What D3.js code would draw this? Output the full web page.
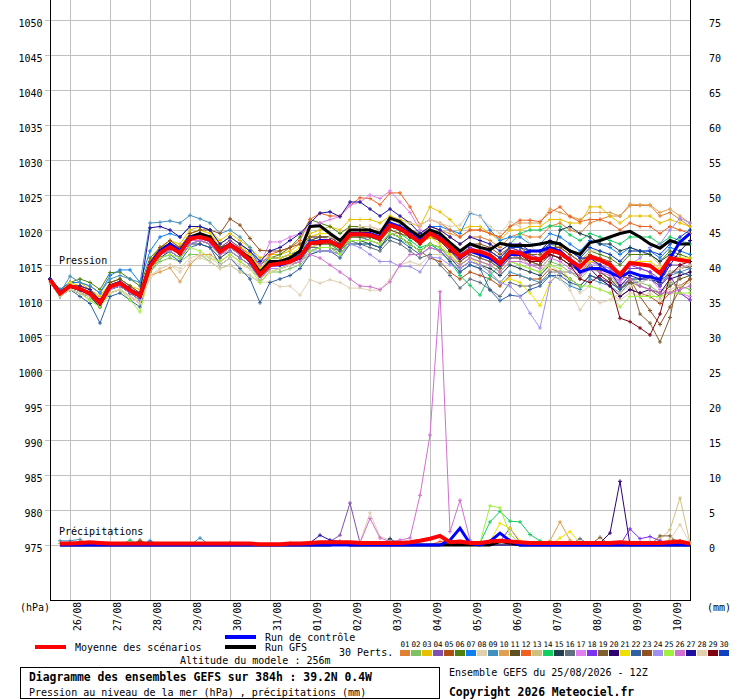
<!DOCTYPE html>
<html>
<head>
<meta charset="utf-8">
<script src="https://cdn.jsdelivr.net/npm/d3@7"></script>
<style>
  body { margin: 0; background: #fff; }
  text { font-family: "DejaVu Sans Mono", monospace; fill: #000; }
</style>
</head>
<body>
<div id="chart"></div>
<script>
// dates at 00Z (every 4 steps of 6h, first one at step 2)
var dates = ["26/08","27/08","28/08","29/08","30/08","31/08","01/09","02/09","03/09","04/09","05/09","06/09","07/09","08/09","09/09","10/09"];
var pressTicks = [975,980,985,990,995,1000,1005,1010,1015,1020,1025,1030,1035,1040,1045,1050];
var rainTicks = [0,5,10,15,20,25,30,35,40,45,50,55,60,65,70,75];

// pressure (hPa), one value every 6h, 65 values (25/08 12Z -> 384h)
var meanP = [1012.9,1010.9,1012.0,1011.6,1010.9,1009.6,1011.9,1012.4,1011.4,1010.6,
  1014.8,1016.7,1017.6,1016.7,1018.8,1019.0,1018.6,1016.9,1017.9,1016.9,
  1015.7,1013.6,1015.0,1015.2,1015.5,1016.2,1018.1,1018.3,1018.4,1017.6,
  1019.4,1019.4,1019.3,1018.8,1020.7,1020.2,1019.3,1018.2,1019.5,1018.8,
  1017.6,1016.2,1017.1,1016.9,1016.4,1015.2,1016.9,1016.7,1016.0,1015.8,
  1017.1,1016.7,1015.7,1014.7,1016.2,1015.7,1015.0,1013.6,1015.3,1015.1,
  1014.9,1013.8,1016.0,1015.7,1015.5];
var ctrlP = [1013,1011,1012,1011.5,1011,1009.5,1012,1012.5,1011.5,1010.5,
  1015,1017,1018,1017,1019,1019,1018.5,1017,1018,1017,
  1015.5,1013.5,1015,1015,1015.5,1016,1018,1018.5,1018.5,1017.5,
  1019.5,1019.5,1019.5,1019,1021,1020.5,1019.5,1018.5,1019.5,1019,
  1017.5,1016,1017,1016.5,1016,1015,1016.5,1016.5,1017,1017,
  1017.5,1017,1015.7,1014,1014.5,1014.5,1013.9,1013.3,1014,1013.5,
  1013.3,1012.9,1016,1018.3,1019.5];
var gfsP = [1013,1011,1012,1011.5,1011,1009.5,1012,1012.5,1011.5,1010.5,
  1015,1017,1018,1017,1019,1019.5,1019,1017,1018,1017,
  1016,1014,1015.5,1015.5,1016,1017,1020.5,1020.6,1019.5,1018.5,
  1020,1020,1020,1019.5,1021.7,1021.2,1020,1019,1020,1019.5,
  1018.2,1017,1018,1017.5,1017.2,1018.1,1017.8,1017.8,1017.8,1018,
  1018.3,1018,1017,1016.5,1018.2,1018.5,1019,1019.5,1019.8,1019,
  1018,1017.4,1018.5,1018,1018];

var pert01 = [1013,1011,1012.5,1012,1011.5,1010,1012.5,1013,1012,1011,
  1015.5,1017.5,1018,1017,1019.5,1020,1019.5,1017.5,1018.5,1017.5,
  1016.5,1014.5,1016,1016,1016.5,1017,1019,1019.5,1019.5,1018.5,
  1020.5,1020.5,1020.5,1020,1021.5,1021,1020,1019,1020.5,1020,
  1019,1018,1019,1019,1018.5,1017.5,1019,1019.5,1019,1019,
  1020.5,1021,1020,1019.5,1021,1021.5,1022,1022,1023.5,1023.5,
  1023.5,1022,1022.5,1021.5,1020.5];
var pert02 = [1012.5,1010.5,1011.5,1011,1010,1009,1011,1011.5,1010.5,1009.5,
  1014,1015.5,1016,1015.5,1016.5,1016.5,1015.5,1014.5,1015,1014,
  1013.5,1012.5,1014,1014,1014.5,1015,1016.5,1017,1017,1016.5,
  1018,1018,1018,1017.5,1019,1018.5,1018,1017,1018,1017.5,
  1016.5,1015,1016,1015.5,1015,1014,1015.5,1015,1014.5,1014,
  1015.5,1015,1014,1013,1014.5,1014,1013,1012,1013,1012.5,
  1012,1011,1012.5,1012,1011.5];
var pert03 = [1013,1011,1012.5,1012.5,1011.5,1010.5,1012.5,1013,1012,1011.5,
  1015.5,1017.5,1018.5,1018,1020,1020.5,1020,1018.5,1019.5,1018.5,
  1017.5,1016,1016.5,1016.5,1017,1018,1019.5,1020,1020.5,1020,
  1021.5,1021.5,1021.5,1021,1022,1021.5,1021,1020.5,1023.3,1022.6,
  1021.5,1020,1020.5,1020.5,1019.5,1018.5,1020,1020,1020.5,1020.5,
  1021.5,1021.5,1021,1021,1023.3,1023.3,1022,1021,1022,1022,
  1022,1021,1021.5,1021,1020.5];
var pert04 = [1013,1011,1012,1011.5,1011,1009.5,1012,1012.5,1011.5,1010.5,
  1015,1017,1018,1017,1019,1019.5,1019,1017.5,1018.5,1017.5,
  1016,1014,1015.5,1015.5,1016,1016.5,1018.5,1018.5,1018.5,1017.5,
  1019.5,1019.5,1019,1018.5,1020.5,1020,1019,1018,1019,1018.5,
  1017,1015.5,1016.5,1016,1015.5,1014.5,1016,1016,1015,1015,
  1016.5,1016,1015,1014,1015.5,1015,1014,1012.5,1014.5,1014.5,
  1014,1013,1015,1015,1014.5];
var pert05 = [1012.5,1011,1011.5,1011,1010.5,1009,1011.5,1012,1011,1010,
  1014.5,1016.5,1017,1016,1018,1018.5,1018,1016.5,1017.5,1016.5,
  1015.5,1013.5,1015,1015,1015,1016,1017.5,1018,1018,1017,
  1019,1019,1018.5,1018,1019.5,1019,1018,1017,1016,1015.5,
  1014,1013,1014,1013.5,1013,1012,1013.5,1013.5,1013,1013,
  1014.5,1014,1013,1012,1013.5,1013,1012,1010.5,1011.5,1011,
  1010.5,1009.5,1011,1012,1013];
var pert06 = [1013,1011.5,1012.5,1013,1012.5,1011.5,1013.9,1014,1013,1012,
  1016,1017.5,1018,1017.5,1019,1019.5,1019,1017.5,1018,1017,
  1016,1014,1016,1016.5,1017.5,1019,1021.5,1021,1020.5,1019.5,
  1020.5,1020.5,1020,1019.5,1021,1020.5,1020,1019,1020,1019.5,
  1018,1016.5,1018,1017.5,1017,1016,1017.5,1017,1016.5,1016.5,
  1018,1017.5,1016.5,1015.5,1017,1016.5,1016,1015,1016.5,1016.5,
  1016.5,1015.5,1017,1016.5,1016];
var pert07 = [1013,1011.5,1012.5,1012.5,1012,1011,1013.5,1014.3,1014.3,1012.5,
  1017,1019,1019.5,1019,1020.5,1020.5,1020,1018,1019,1018,
  1017,1015,1016,1016,1016.5,1017,1019,1019,1019,1018.5,
  1020,1020,1020,1019.5,1021,1020.5,1020,1019.5,1020.5,1020.5,
  1020,1019.5,1022.4,1022,1020,1018.5,1019,1019,1018,1018,
  1019.5,1019,1018,1017,1018.5,1018,1017.5,1016.5,1017.5,1017,
  1017,1016,1017.5,1017,1016.5];
var pert08 = [1012.5,1011,1011.5,1011,1010.5,1009.5,1011,1011.5,1010.5,1010,
  1013,1014.5,1015,1014,1015.5,1016,1015.5,1014.5,1015,1014,
  1013.5,1012.5,1012.6,1011.9,1012,1010.7,1012.9,1012.4,1012.9,1012.5,
  1011.7,1011.7,1011.4,1011.4,1013,1015,1015.5,1015,1016.5,1016.5,
  1016,1015.5,1017,1016.5,1016,1015,1016.5,1016,1015,1014.5,
  1015,1014,1012.5,1011,1012,1011.5,1011,1010,1011,1010.5,
  1011,1010,1011.5,1012,1012.5];
var pert09 = [1013,1011,1013.4,1012.5,1012,1011,1013,1013.5,1013,1012.5,
  1021,1021.1,1021.3,1021,1022.1,1021.6,1021,1019.5,1020,1019,
  1017.5,1015.5,1016,1016,1016.5,1017,1018.5,1019,1019,1018,
  1019.5,1019,1018.5,1018,1019.5,1019,1018,1017,1018,1017,
  1015.5,1014,1015,1014.5,1013.5,1012.5,1014,1013.5,1013,1012.5,
  1013.5,1013,1012,1011.5,1013,1012.5,1012,1011,1012.5,1012.5,
  1013,1012,1013.5,1014,1014.5];
var pert10 = [1012.5,1010.5,1011.5,1011,1010.5,1009.5,1011,1011.5,1010.5,1009.5,
  1013.5,1014,1014.6,1012.6,1015,1016.5,1016.5,1015.5,1016.5,1015.5,
  1014.5,1013,1014,1014.5,1015,1016,1017.5,1018,1018.5,1018,
  1019.5,1019.5,1019.5,1019,1021,1020.5,1020,1019.5,1020.5,1020,
  1019.5,1019,1020,1020,1019.5,1019,1020.5,1021,1021,1021,
  1023,1022.5,1022,1021.5,1022.5,1022.5,1022.5,1022,1023.7,1023.6,
  1023.6,1022.5,1023,1022,1021];
var pert11 = [1013,1011,1012,1012,1011.5,1010,1012.5,1013,1012,1011,
  1015,1017,1018,1017,1019,1019.5,1019,1017.5,1018,1017,
  1016,1014,1015.5,1015.5,1016,1016.5,1018.5,1019,1019,1018,
  1020,1020,1020,1019.5,1021.5,1021,1020,1019,1020,1019,
  1017.5,1016,1017,1016.5,1016,1015,1016.5,1016,1015.5,1015,
  1016.5,1016,1015,1014,1015,1014,1013,1011.5,1012.5,1012,
  1011.5,1010.5,1012,1013,1013.5];
var pert12 = [1013,1011,1012,1012,1011.5,1010,1012,1012.5,1011.5,1011,
  1015,1017,1018,1017.5,1019,1019.5,1019,1017,1018,1017.5,
  1016.5,1015,1016.5,1017,1017.5,1018.5,1021.5,1022.4,1022,1022,
  1023.5,1024.6,1024.5,1023.6,1025.3,1025.3,1023.3,1020.7,1021.5,1021,
  1020,1019,1020,1020,1019.5,1019,1020.5,1021.4,1021.4,1021.2,
  1022.5,1023.3,1021.9,1021.2,1021.5,1021.5,1021,1020,1021,1020.5,
  1020.5,1019.5,1020.5,1020,1019.5];
var pert13 = [1012.5,1010.5,1012,1011.5,1011,1009.5,1012,1012.5,1011.5,1010.5,
  1014.5,1016,1017,1016,1018,1018.5,1018,1016.5,1017,1016,
  1015,1013,1014.5,1014.5,1015,1016,1017.5,1018,1018,1017,
  1018.5,1018.5,1018.5,1018,1019.5,1019.5,1019,1018,1019,1018.5,
  1017.5,1016.5,1017.5,1017,1016.5,1015.5,1017,1017,1016.5,1016.5,
  1018,1017.5,1016.5,1015.5,1017,1017,1016.5,1015.5,1017,1017,
  1016.5,1015,1013,1011,1010];
var pert14 = [1013,1011,1012,1011.5,1011,1009.5,1012,1012.5,1011.5,1010.5,
  1015,1016.5,1017.5,1016.5,1018.5,1018.5,1018,1016.5,1017.5,1016.5,
  1015.5,1013.5,1015,1015,1015.5,1016,1018,1018,1018,1017,
  1019,1019,1019,1018.5,1020,1019.5,1018.5,1017.5,1018,1017,
  1015.5,1013.5,1012.1,1010.7,1013.5,1015,1018,1019.5,1020,1020,
  1020.6,1020.5,1019.3,1018.5,1019.5,1019,1018.5,1018,1019,1019,
  1019,1018,1019,1018.5,1018];
var pert15 = [1012.5,1010.5,1011.5,1011,1010.5,1009,1011.5,1012,1011,1010,
  1014,1016,1017,1016,1018,1018,1017.5,1016,1017,1016,
  1015,1013,1014.5,1014.5,1015,1015.5,1017,1017.5,1017.5,1016.5,
  1018.5,1018.5,1018,1017.5,1019.5,1019,1018,1017,1018,1017.5,
  1016,1014.5,1015.5,1015,1014.5,1013.5,1015,1014.5,1014,1013.5,
  1015,1020,1020.5,1019.5,1019,1018,1018,1017,1017.5,1017,
  1016.5,1015.5,1016.5,1016,1015.5];
var pert16 = [1013,1011,1012,1011.5,1011,1009.5,1012,1012.5,1011.5,1010.5,
  1014.5,1016.5,1017,1016,1018,1018.5,1018,1016.5,1017.5,1016.5,
  1015.5,1013,1014.5,1014.5,1015,1015.5,1017.5,1017.5,1017.5,1017,
  1018.5,1018,1017.5,1017,1018.5,1018,1017,1016,1016.5,1015,
  1013.5,1011.7,1013,1012.5,1011.5,1010.5,1012.5,1012,1012,1012.5,
  1014,1014,1013,1012,1013.5,1013,1012.5,1011.5,1013,1013,
  1013,1012,1014,1014.5,1015];
var pert17 = [1013,1011,1012,1011.5,1011,1010,1012,1012.5,1011.5,1010.5,
  1015,1016.5,1017.5,1016.5,1018.5,1019,1018.5,1017,1018,1017,
  1016,1015,1018.3,1018.3,1019,1019.5,1020.5,1021,1021.5,1021.9,
  1023.5,1024,1025,1024.5,1025.6,1024,1022.5,1020,1019.5,1019,
  1017.5,1016,1017,1016.5,1016,1015,1016.5,1016,1015.5,1015.5,
  1016.5,1016,1015,1014,1015.5,1015,1014,1012.5,1014,1013.5,
  1013,1011.5,1011,1011,1010.5];
var pert18 = [1013,1011,1012,1011.5,1011,1009.5,1012,1012.5,1011.5,1010.5,
  1015,1017,1018,1017,1019,1019,1018.5,1017,1018,1017,
  1016,1013.5,1015,1015.5,1016,1016.5,1018.5,1018.5,1018.5,1017.5,
  1019.5,1019.5,1019.5,1019,1021,1020.5,1019.5,1018.5,1019.5,1019,
  1018,1016.5,1017.5,1017,1017,1016,1017.5,1017,1016.5,1016,
  1017.5,1017,1016,1015,1016,1015,1014.5,1013,1015,1014.5,
  1014,1012,1013.5,1011,1010];
var pert19 = [1013,1011,1012,1011.5,1011,1009.5,1012,1012.5,1011.5,1010.5,
  1014.5,1016.5,1017.5,1016.5,1018.5,1018.5,1018,1016.5,1017.5,1016.5,
  1015.5,1013.5,1015,1015,1015.5,1016,1018,1018,1018,1017.5,
  1019,1019,1019,1018.5,1020.5,1020,1019,1018,1019,1018.5,
  1017,1015.5,1016.5,1016,1015.5,1014.5,1016,1016,1015.5,1015,
  1016.5,1016,1015,1014,1015,1014,1013,1011.5,1012.9,1008,
  1006.7,1004,1007.5,1014.5,1014.8];
var pert20 = [1013,1011,1012,1011.5,1011,1009.5,1011.5,1012,1011,1010.5,
  1015,1017,1018,1017,1019,1019,1018.5,1017,1018,1016.5,
  1015.5,1013.5,1015,1015,1015.5,1016.5,1018.5,1018.5,1018.5,1017.5,
  1019.5,1019.5,1019.5,1019,1021,1020.5,1019.5,1018.5,1019.5,1019,
  1017.5,1016,1017,1016.5,1016,1015,1016.5,1016.5,1015.5,1015.5,
  1017,1016.5,1015.5,1014,1014.5,1013,1012,1010.5,1011.5,1011,
  1011.5,1011,1013,1013.5,1014];
var pert21 = [1013,1011,1012.5,1012,1011.5,1010,1012,1012.5,1011.5,1010.5,
  1015.5,1017.5,1018.5,1017.5,1019.5,1020,1019.5,1018,1019,1018,
  1016.5,1014.5,1016,1016,1016.5,1017.5,1019,1019.5,1019.5,1018.5,
  1020,1020,1019.5,1019,1020.5,1020,1019,1018,1019,1018,
  1016.5,1015,1016,1015,1014,1012.5,1013,1012.5,1011,1009.2,
  1012.5,1014,1014,1013.5,1015.5,1015.5,1015,1014,1015.5,1015.5,
  1015.5,1014.5,1016,1016,1016];
var pert22 = [1013,1010.5,1011.5,1010.5,1009.5,1006.7,1010.5,1011,1010,1009,
  1014,1016,1016.5,1015.5,1017.5,1018,1017.5,1015,1016,1014.5,
  1013,1009.6,1012.5,1013,1013.5,1014.5,1016.5,1017,1017,1016,
  1018,1018,1018,1017.5,1019,1018.5,1017.5,1016.5,1017.5,1017,
  1015.5,1014,1015,1014.5,1011.4,1009.9,1010.7,1010.5,1011.5,1012,
  1013.5,1013.5,1012.5,1012,1013.5,1013,1012.5,1011.5,1013,1013,
  1013.5,1012.5,1014,1014,1013.5];
var pert23 = [1013,1011,1012,1011.5,1011,1010,1012,1012.5,1011.5,1010.5,
  1015.5,1017.5,1018.5,1017.5,1019.5,1020,1020,1019.5,1021.6,1020.7,
  1018.8,1017.1,1017,1017,1017.5,1018,1019,1019,1019,1018,
  1019.5,1019.5,1019,1018.5,1020,1019.5,1019,1018.5,1019.5,1019,
  1018,1017,1018,1018,1017.5,1016.5,1017.5,1017.5,1016.5,1016.5,
  1017.5,1017.5,1016.5,1015.5,1016.5,1016,1015.5,1013.5,1013,1010.5,
  1008.5,1006.5,1009,1011.5,1013];
var pert24 = [1013,1011,1012,1011.5,1010.5,1009.5,1011.5,1012,1011,1010,
  1014.5,1016.5,1017,1016,1018,1018.5,1018,1016.5,1017,1016,
  1015,1013,1014.5,1014.5,1015,1015.5,1017,1017,1017,1016.5,
  1018,1017.5,1016.5,1015.5,1015.5,1014.8,1014.8,1014,1016.1,1016,
  1015,1014.5,1015.5,1015,1014,1012.5,1012,1010.5,1008.1,1006,
  1012.5,1014,1014,1013.5,1015,1015,1014.5,1013.5,1015,1016,
  1017.5,1018,1020,1021.7,1021];
var pert25 = [1012.5,1010.5,1011.5,1011,1010,1009,1011,1011.5,1010,1008.3,
  1014,1016,1016.5,1016,1017.5,1017,1016,1015.5,1016.5,1015.5,
  1014.5,1012.5,1014,1014.5,1015,1015.5,1017,1017.5,1017.5,1016.5,
  1018.5,1018.5,1018.5,1018,1019.5,1019,1018,1017,1018,1017.5,
  1016,1015,1016,1015.5,1015,1014,1015.5,1015,1014.5,1014,
  1015,1014.5,1013,1012,1012,1011.5,1011,1009,1010.5,1010.5,
  1010.5,1010.5,1011,1011,1011];
var pert26 = [1013,1011,1012,1011.5,1011,1009.5,1012,1012.5,1011.5,1010.5,
  1015,1016.5,1017.5,1016.5,1018.5,1018.5,1018,1016.5,1017.5,1016.5,
  1015.5,1013.5,1015,1015,1015,1015.5,1016.5,1016,1015,1014,
  1013,1012,1011.9,1011.5,1012.6,1015,1016.5,1016.5,1017.5,1017,
  1016,1015,1016,1015.5,1015,1014,1015.5,1015.5,1015,1014.5,
  1016,1015.5,1014.5,1013.5,1014.5,1014,1013.5,1012,1013,1012,
  1011.5,1011,1011,1011.5,1012];
var pert27 = [1013,1011,1012,1012,1011.5,1010,1012,1012.5,1011.5,1011,
  1020.3,1020.5,1020,1019,1020.5,1020.5,1020,1018,1019,1018,
  1017,1015.5,1017,1017.5,1018.5,1019.5,1021,1022.4,1022.6,1021.9,
  1024,1024,1023,1022,1023,1022,1021,1019.5,1020.5,1020,
  1019,1018,1019,1018.5,1018,1017,1018,1018,1017,1017,
  1018.5,1018,1017,1016,1016,1015,1014,1012,1013.5,1013,
  1013,1012.5,1015,1017,1018.5];
var pert28 = [1012.5,1010.5,1011.5,1011,1010.5,1009.5,1011,1011.5,1010.5,1009.5,
  1013.5,1014.5,1015,1014.5,1016,1016.5,1016,1015,1016,1015,
  1014.5,1013,1014,1014.5,1015,1016,1018,1018.5,1019,1018.5,
  1020,1020.5,1020.5,1020,1021.5,1021,1021,1020.7,1021.5,1021,
  1020.5,1020.7,1022.6,1021.9,1020.5,1019.5,1021.2,1020.5,1018,1016,
  1014.5,1013,1011.4,1008.6,1010.5,1009.6,1010,1011,1012,1012.5,
  1013,1013,1014,1014.5,1015];
var pert29 = [1013,1011,1012,1011.5,1011,1009.5,1012,1012.5,1011.5,1010.5,
  1014.5,1016.5,1017.5,1016.5,1018.5,1019,1018.5,1017,1018,1017,
  1015.5,1013.5,1015,1015,1015.5,1016,1018,1018,1018.5,1017.5,
  1019.5,1019.5,1019.5,1019,1020.5,1020,1019,1018,1019.5,1018.5,
  1017,1016,1017,1016.5,1016,1015,1016.5,1016.5,1015.5,1015.5,
  1016.5,1016,1015,1013,1012.5,1013.5,1012.5,1007.4,1006.9,1006,
  1005,1008,1013.5,1015,1015.5];
var pert30 = [1013,1011,1012,1011.5,1011,1009.5,1012,1012.5,1011.5,1010.5,
  1015,1017,1018,1017,1019,1019.5,1019,1017,1018,1017,
  1016,1014,1015.5,1015.5,1016,1016.5,1018.5,1018.5,1018.5,1018,
  1019.5,1019.5,1019.5,1019,1021,1020.5,1019.5,1018.5,1019.5,1019,
  1018,1017,1018,1017.5,1017,1016,1017.5,1017.5,1017,1017,
  1018,1018,1017,1016,1017.5,1017,1016.5,1015.5,1017,1017,
  1017,1016.5,1018,1019,1020];

// precipitation (mm) as [step, mm]; steps not listed are 0 (steps 1..64)
var rainMean = [[1,0.2],[2,0.2],[3,0.3],[4,0.4],[5,0.3],[6,0.2],[7,0.2],[8,0.2],[9,0.2],[10,0.2],[11,0.2],
  [12,0.2],[13,0.2],[14,0.2],[15,0.2],[16,0.2],[17,0.2],[18,0.2],[19,0.2],[20,0.2],[21,0.1],[22,0.1],
  [23,0.1],[24,0.2],[25,0.2],[26,0.3],[27,0.4],[28,0.4],[29,0.4],[30,0.4],[31,0.3],[32,0.3],[33,0.3],
  [34,0.3],[35,0.3],[36,0.4],[37,0.6],[38,0.9],[39,1.3],[40,0.4],[41,0.5],[42,0.3],[43,0.3],[44,0.5],
  [45,0.6],[46,0.5],[47,0.4],[48,0.3],[49,0.3],[50,0.3],[51,0.3],[52,0.3],[53,0.3],[54,0.3],[55,0.3],
  [56,0.3],[57,0.4],[58,0.3],[59,0.3],[60,0.3],[61,0.3],[62,0.4],[63,0.5],[64,0.2]];
var rainCtrl = [[40,0.7],[41,2.4],[42,0.2],[44,0.5],[45,1.7],[46,0.6]];
var rainGfs = [[29,0.3],[45,0.5],[46,0.3]];
var rain01 = [[2,0.3],[3,0.4]];
var rain02 = [[1,0.2]];
var rain03 = [[45,0.4],[46,0.3]];
var rain04 = [[28,0.5],[29,1.4],[30,6.0],[31,0.3]];
var rain05 = [[40,0.3],[41,0.5]];
var rain06 = [[18,0.3]];
var rain07 = [[10,0.6]];
var rain08 = [[19,0.3],[31,0.4],[32,4.6],[33,1.2],[34,0.7],[35,0.6],[36,0.3]];
var rain09 = [[1,0.6],[2,0.6],[3,0.8],[15,1.0]];
var rain10 = [[50,0.6],[51,3.3],[52,0.7]];
var rain11 = [[9,0.5]];
var rain12 = [[3,0.5],[39,0.5],[40,0.6]];
var rain13 = [[61,0.8],[62,2.2],[63,6.7],[64,0.3]];
var rain14 = [[8,0.7],[43,0.3],[44,3.3],[45,4.8],[46,3.4],[47,3.3],[48,1.5],[49,0.6]];
var rain15 = [[34,0.9]];
var rain16 = [[53,0.9]];
var rain17 = [[24,0.3]];
var rain18 = [[45,0.5],[46,2.4],[47,0.4],[58,2.3],[59,0.9],[60,1.2],[61,0.6]];
var rain19 = [[9,0.7],[55,1.1],[61,1.3],[62,1.3]];
var rain20 = [[55,0.3],[56,1.7],[57,9.1]];
var rain21 = [[44,0.5],[45,3.1],[46,2.4],[47,0.6],[51,1.0],[52,1.9],[53,0.3]];
var rain22 = [[2,0.3]];
var rain23 = [[62,0.8],[63,0.6]];
var rain24 = [[60,0.5]];
var rain25 = [[43,0.3],[44,5.6],[45,5.3],[46,1.5],[47,0.3]];
var rain26 = [[30,0.2],[31,0.3],[32,3.8],[33,1.0],[34,0.5],[35,0.7],[36,1.0],[37,7.1],[38,15.7],
  [39,36.2],[40,1.9],[41,6.4],[42,0.7]];
var rain27 = [[26,0.3],[27,1.4],[28,0.7],[29,0.5]];
var rain28 = [[62,0.8],[63,2.9],[64,0.3]];
var rain29 = [[57,0.3]];
var rain30 = [[41,0.3]];

var pertColors = ["#e08030","#80c060","#e8c000","#8050b0","#b05010","#508010","#1080f0","#e0d0b0",
  "#4090c0","#e0a050","#605020","#f06020","#d0c080","#10d060","#204050","#607080","#e080f0","#8030f0",
  "#806030","#300070","#f0e000","#3060a0","#905020","#a090f0","#a0f040","#d070d0","#2010a0","#e0d0b0",
  "#800010","#1040c0"];

var perts = [pert01,pert02,pert03,pert04,pert05,pert06,pert07,pert08,pert09,pert10,pert11,pert12,pert13,pert14,pert15,
  pert16,pert17,pert18,pert19,pert20,pert21,pert22,pert23,pert24,pert25,pert26,pert27,pert28,pert29,pert30];
var rains = [rain01,rain02,rain03,rain04,rain05,rain06,rain07,rain08,rain09,rain10,rain11,rain12,rain13,rain14,rain15,
  rain16,rain17,rain18,rain19,rain20,rain21,rain22,rain23,rain24,rain25,rain26,rain27,rain28,rain29,rain30];

// sparse [step, mm] -> full series from step 1 to 64
function expandRain(list) {
    var out = [];
    for (var i = 1; i <= 64; i++) {
        var f = list.find(function (d) { return d[0] === i; });
        out.push([i, f ? f[1] : 0]);
    }
    return out;
}

function main() {
    var W = 740, H = 700;
    var plot = {left: 50, right: 690, bottom: 600};

    var svg = d3.select("#chart").append("svg")
        .attr("width", W).attr("height", H);

    var x = d3.scaleLinear().domain([0, 64]).range([plot.left, plot.right]);
    var yP = d3.scaleLinear().domain([975, 1050]).range([545, 20]);
    var yR = d3.scaleLinear().domain([0, 75]).range([545, 20]);

    // grid
    var grid = svg.append("g").attr("shape-rendering", "crispEdges");
    grid.selectAll(".hg").data(pressTicks).enter().append("line")
        .attr("x1", plot.left).attr("x2", plot.right)
        .attr("y1", function (d) { return yP(d) + 0.5; }).attr("y2", function (d) { return yP(d) + 0.5; })
        .attr("stroke", "#c0c0c0");
    grid.selectAll(".vg").data(dates).enter().append("line")
        .attr("x1", function (d, i) { return x(2 + 4 * i) + 0.5; })
        .attr("x2", function (d, i) { return x(2 + 4 * i) + 0.5; })
        .attr("y1", 0).attr("y2", plot.bottom)
        .attr("stroke", "#c0c0c0");

    // left axis
    var yAxis_ = d3.axisLeft(yP).tickValues(pressTicks).tickFormat(d3.format("d")).tickSize(6).tickPadding(2);
    var yAxis = svg.append("g")
        .attr("transform", "translate(" + (plot.left + 0.5) + ",0)")
        .call(yAxis_);
    yAxis.select(".domain").remove();
    yAxis.selectAll("line").attr("stroke", "#c0c0c0").attr("shape-rendering", "crispEdges");
    yAxis.selectAll("text").style("font-family", "DejaVu Sans Mono").style("font-size", "10px")
        .attr("dy", "0.65em").attr("fill", "#000");

    // right axis (precipitation)
    var rAxis_ = d3.axisRight(yR).tickValues(rainTicks).tickFormat(d3.format("d")).tickSize(0).tickPadding(19);
    var rAxis = svg.append("g")
        .attr("transform", "translate(" + plot.right + ",0)")
        .call(rAxis_);
    rAxis.select(".domain").remove();
    rAxis.selectAll("text").style("font-family", "DejaVu Sans Mono").style("font-size", "10px")
        .attr("dy", "0.65em").attr("fill", "#000");

    // frame
    var frame = svg.append("g").attr("shape-rendering", "crispEdges").attr("stroke", "#000");
    frame.append("line").attr("x1", plot.left + 0.5).attr("x2", plot.left + 0.5).attr("y1", 0).attr("y2", plot.bottom);
    frame.append("line").attr("x1", plot.right + 0.5).attr("x2", plot.right + 0.5).attr("y1", 0).attr("y2", plot.bottom);
    frame.append("line").attr("x1", plot.left).attr("x2", plot.right + 1).attr("y1", plot.bottom + 0.5).attr("y2", plot.bottom + 0.5);

    // date labels
    svg.selectAll(".date").data(dates).enter().append("text")
        .attr("transform", function (d, i) { return "translate(" + (x(2 + 4 * i) + 11) + ",602) rotate(-90)"; })
        .attr("text-anchor", "end")
        .style("font-size", "9.6px")
        .text(function (d) { return d; });

    svg.append("text").attr("x", 20).attr("y", 611).style("font-size", "10px").text("(hPa)");
    svg.append("text").attr("x", 707).attr("y", 611).style("font-size", "10px").text("(mm)");
    svg.append("text").attr("x", 59).attr("y", 264).style("font-size", "10px").text("Pression");
    svg.append("text").attr("x", 59).attr("y", 535).style("font-size", "10px").text("Précipitations");

    var lineP = d3.line().x(function (d, i) { return x(i); }).y(function (d) { return yP(d); });
    var lineR = d3.line().x(function (d) { return x(d[0]); }).y(function (d) { return yR(d[1]); });
    var cross = "M-2,0H2M0,-2V2";

    // perturbations: pressure + precipitation
    var series = svg.append("g");
    perts.forEach(function (p, k) {
        var g = series.append("g");
        var r = expandRain(rains[k]);
        g.append("path").attr("d", lineP(p)).attr("fill", "none")
            .attr("stroke", pertColors[k]).attr("stroke-width", 1);
        g.append("path").attr("d", lineR(r)).attr("fill", "none")
            .attr("stroke", pertColors[k]).attr("stroke-width", 1);
        g.selectAll(".mp").data(p).enter().append("path")
            .attr("d", cross)
            .attr("transform", function (d, i) { return "translate(" + x(i) + "," + yP(d) + ")"; })
            .attr("stroke", pertColors[k]).attr("stroke-width", 1);
        g.selectAll(".mr").data(r.filter(function (d) { return d[1] > 0; })).enter().append("path")
            .attr("d", cross)
            .attr("transform", function (d) { return "translate(" + x(d[0]) + "," + yR(d[1]) + ")"; })
            .attr("stroke", pertColors[k]).attr("stroke-width", 1);
    });

    // GFS, control, mean
    var mains = [
        {p: gfsP, r: rainGfs, color: "#000000", w: 3},
        {p: ctrlP, r: rainCtrl, color: "#0000ff", w: 3},
        {p: meanP, r: rainMean, color: "#ff0000", w: 4}
    ];
    mains.forEach(function (m) {
        svg.append("path").attr("d", lineP(m.p)).attr("fill", "none")
            .attr("stroke", m.color).attr("stroke-width", m.w).attr("stroke-linejoin", "miter");
        svg.append("path").attr("d", lineR(expandRain(m.r))).attr("fill", "none")
            .attr("stroke", m.color).attr("stroke-width", m.w);
    });

    // legend
    var leg = svg.append("g").style("font-size", "10px");
    leg.append("rect").attr("x", 35).attr("y", 645).attr("width", 31).attr("height", 4).attr("fill", "#ff0000");
    leg.append("text").attr("x", 75).attr("y", 651).text("Moyenne des scénarios");
    leg.append("rect").attr("x", 225).attr("y", 635).attr("width", 31).attr("height", 4).attr("fill", "#0000ff");
    leg.append("text").attr("x", 265).attr("y", 641).text("Run de contrôle");
    leg.append("rect").attr("x", 225).attr("y", 645).attr("width", 31).attr("height", 4).attr("fill", "#000000");
    leg.append("text").attr("x", 265).attr("y", 651).text("Run GFS");
    leg.append("text").attr("x", 339).attr("y", 656).text("30 Perts.");
    leg.append("text").attr("x", 180).attr("y", 664).text("Altitude du modele : 256m");

    var boxes = svg.append("g");
    pertColors.forEach(function (c, k) {
        var bx = 400 + k * 11;
        boxes.append("rect").attr("x", bx).attr("y", 650).attr("width", 10).attr("height", 6).attr("fill", c);
        boxes.append("text").attr("x", bx + 5).attr("y", 647).attr("text-anchor", "middle")
            .style("font-size", "7.6px").text(d3.format("02d")(k + 1));
    });

    // info box
    svg.append("rect").attr("x", 20.5).attr("y", 667.5).attr("width", 419).attr("height", 31)
        .attr("fill", "none").attr("stroke", "#000").attr("shape-rendering", "crispEdges");
    svg.append("text").attr("x", 29).attr("y", 681).style("font-size", "11.4px").style("font-weight", "bold")
        .text("Diagramme des ensembles GEFS sur 384h : 39.2N 0.4W");
    svg.append("text").attr("x", 29).attr("y", 696).style("font-size", "10px")
        .text("Pression au niveau de la mer (hPa) , précipitations (mm)");
    svg.append("text").attr("x", 449).attr("y", 676).style("font-size", "10px")
        .text("Ensemble GEFS du 25/08/2026 - 12Z");
    svg.append("text").attr("x", 449).attr("y", 696).style("font-size", "11.4px").style("font-weight", "bold")
        .text("Copyright 2026 Meteociel.fr");
}

main();
</script>
</body>
</html>
